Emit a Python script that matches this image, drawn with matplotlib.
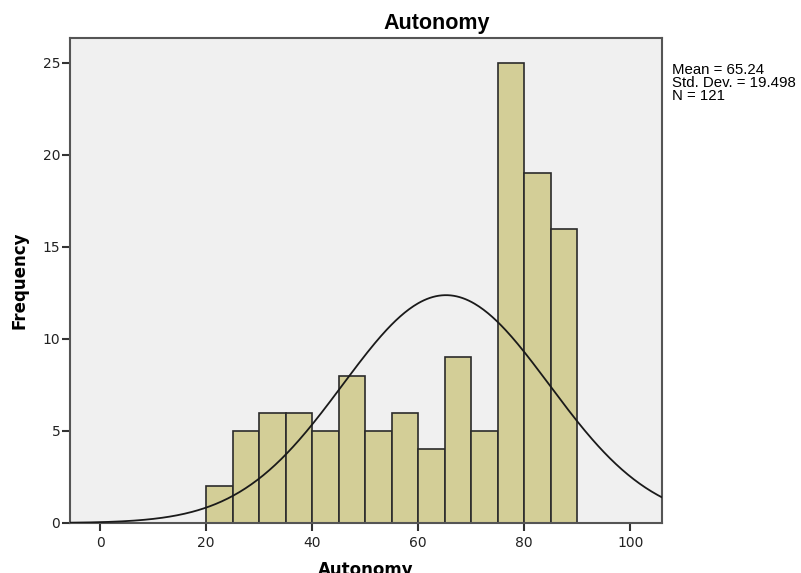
import numpy as np
import matplotlib.pyplot as plt

# histogram bins (width 5) and counts
bin_edges = [20, 25, 30, 35, 40, 45, 50, 55, 60, 65, 70, 75, 80, 85, 90]
counts = [2, 5, 6, 6, 5, 8, 5, 6, 4, 9, 5, 25, 19, 16]

mean = 65.24
std_dev = 19.498
n = 121
bin_width = 5

fig = plt.figure(figsize=(8.01, 5.73), dpi=100)
ax = fig.add_axes([70/801, 50/573, 592/801, 485/573])
ax.set_facecolor('#f0f0f0')

ax.bar(bin_edges[:-1], counts, width=bin_width, align='edge',
       color='#d3ce97', edgecolor='#2b2b2b', linewidth=1.2, zorder=2)

# fitted normal curve from the reported statistics
xs = np.linspace(-6, 106, 400)
ys = n * bin_width / (std_dev * np.sqrt(2 * np.pi)) * np.exp(-0.5 * ((xs - mean) / std_dev) ** 2)
ax.plot(xs, ys, color='#1a1a1a', linewidth=1.3, zorder=3)

ax.set_xlim(-5.7, 106)
ax.set_ylim(0, 26.35)
ax.set_xticks([0, 20, 40, 60, 80, 100])
ax.set_yticks([0, 5, 10, 15, 20, 25])
ax.tick_params(axis='both', direction='out', length=6, width=1.5, color='#333333',
               labelsize=10, labelcolor='#222222')
ax.tick_params(axis='y', pad=1)
for s in ax.spines.values():
    s.set_color('#555555')
    s.set_linewidth(1.5)

ax.set_xlabel('Autonomy', fontsize=12, fontweight='bold', labelpad=8)
ax.set_ylabel('Frequency', fontsize=12, fontweight='bold', labelpad=10)

fig.text(437/801, 1 - 24/573, 'Autonomy', ha='center', va='center',
         fontsize=15.5, fontweight='bold', family='Liberation Sans')
fig.text(672/801, 1 - 63/573,
         'Mean = %.2f\nStd. Dev. = %.3f\nN = %d' % (mean, std_dev, n),
         ha='left', va='top', fontsize=10.8, family='Liberation Sans', linespacing=0.92)

fig.savefig('out.png', dpi=100)
